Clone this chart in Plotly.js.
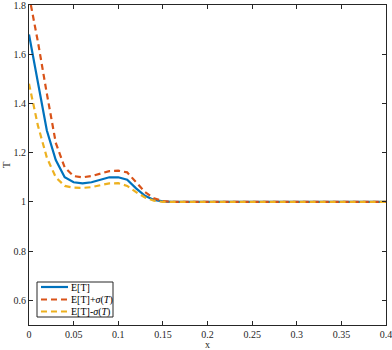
<!DOCTYPE html>
<html>
<head>
<meta charset="utf-8">
<script src="https://cdn.plot.ly/plotly-3.0.1.min.js"></script>
<style>
  html, body { margin: 0; padding: 0; background: #fff; }
  #chart { width: 392px; height: 350px; }
</style>
</head>
<body>
<div id="chart"></div>
<script>
// x grid and the three series
var x_values = [ 0, 0.01, 0.02, 0.03, 0.04, 0.05, 0.06, 0.07, 0.08, 0.09, 0.1,
                 0.11, 0.12, 0.13, 0.14, 0.15, 0.16, 0.2, 0.25, 0.3, 0.35, 0.4 ];

var mean_T  = [ 1.68, 1.48, 1.29, 1.17, 1.10, 1.08, 1.075, 1.08, 1.09, 1.10, 1.10,
                1.09, 1.055, 1.025, 1.008, 1.002, 1.0, 1.0, 1.0, 1.0, 1.0, 1.0 ];

var upper_T = [ 1.84, 1.65, 1.44, 1.24, 1.14, 1.105, 1.10, 1.105, 1.115, 1.125, 1.127,
                1.12, 1.08, 1.04, 1.015, 1.003, 1.0, 1.0, 1.0, 1.0, 1.0, 1.0 ];

var lower_T = [ 1.48, 1.31, 1.18, 1.10, 1.065, 1.058, 1.057, 1.06, 1.068, 1.075, 1.076,
                1.065, 1.04, 1.018, 1.005, 1.0, 1.0, 1.0, 1.0, 1.0, 1.0, 1.0 ];

var series_names  = [ 'E[T]', 'E[T]+<i>σ</i>(<i>T</i>)', 'E[T]-<i>σ</i>(<i>T</i>)' ];
var series_colors = [ '#0072BD', '#D95319', '#EDB120' ];
var series_dash   = [ 'solid', '6px,4px', '6px,4px' ];

var x_ticks = [ 0, 0.05, 0.1, 0.15, 0.2, 0.25, 0.3, 0.35, 0.4 ];
var y_ticks = [ 0.6, 0.8, 1, 1.2, 1.4, 1.6, 1.8 ];

var serif = 'Liberation Serif, DejaVu Serif, serif';
var ink = '#262626';

var series_values = [ mean_T, upper_T, lower_T ];
var data = [];
for ( var i = 0; i < series_values.length; i++ )
{
    data.push(
    {
        x: x_values,
        y: series_values[ i ],
        name: series_names[ i ],
        mode: 'lines',
        showlegend: false,
        line: { color: series_colors[ i ], width: 2.2, dash: series_dash[ i ] }
    } );
}

// plot area in pixels, used to place the hand-made legend box
var plot_l = 29, plot_r = 386, plot_t = 5, plot_b = 325;
function px( v ) { return ( v - plot_l ) / ( plot_r - plot_l ); }
function py( v ) { return ( plot_b - v ) / ( plot_b - plot_t ); }

var shapes =
[
    {
        type: 'rect', xref: 'paper', yref: 'paper',
        x0: px( 37 ), x1: px( 113 ), y0: py( 317 ), y1: py( 282 ),
        fillcolor: '#fff', line: { color: ink, width: 1 }, layer: 'above'
    }
];
var annotations = [];
var row_y = [ 287, 299.5, 311.5 ];
for ( var i = 0; i < series_names.length; i++ )
{
    shapes.push(
    {
        type: 'line', xref: 'paper', yref: 'paper',
        x0: px( 41 ), x1: px( 68 ), y0: py( row_y[ i ] ), y1: py( row_y[ i ] ),
        line: { color: series_colors[ i ], width: 2.2, dash: series_dash[ i ] },
        layer: 'above'
    } );
    annotations.push(
    {
        xref: 'paper', yref: 'paper',
        x: px( 69 ), y: py( row_y[ i ] ),
        xanchor: 'left', yanchor: 'middle',
        showarrow: false,
        text: series_names[ i ],
        font: { family: serif, size: 10, color: '#000' }
    } );
}

var axis_common =
{
    showgrid: false,
    zeroline: false,
    showline: true,
    linecolor: ink,
    linewidth: 1,
    mirror: 'ticks',
    ticks: 'inside',
    ticklen: 4,
    tickcolor: ink,
    ticklabeloverflow: 'allow',
    tickfont: { family: serif, size: 10, color: ink }
};

var layout =
{
    width: 392,
    height: 350,
    margin: { l: plot_l, r: 392 - plot_r, t: plot_t, b: 350 - plot_b },
    paper_bgcolor: '#fff',
    plot_bgcolor: '#fff',
    showlegend: false,
    xaxis: Object.assign( {}, axis_common,
    {
        range: [ 0, 0.4 ],
        tickvals: x_ticks,
        title: { text: 'x', font: { family: serif, size: 10, color: ink }, standoff: 3 }
    } ),
    yaxis: Object.assign( {}, axis_common,
    {
        range: [ 0.5, 1.8 ],
        tickvals: y_ticks,
        title: { text: 'T', font: { family: serif, size: 11, color: ink }, standoff: 4 }
    } ),
    shapes: shapes,
    annotations: annotations
};

Plotly.newPlot( 'chart', data, layout, { displayModeBar: false, staticPlot: true } );
</script>
</body>
</html>
